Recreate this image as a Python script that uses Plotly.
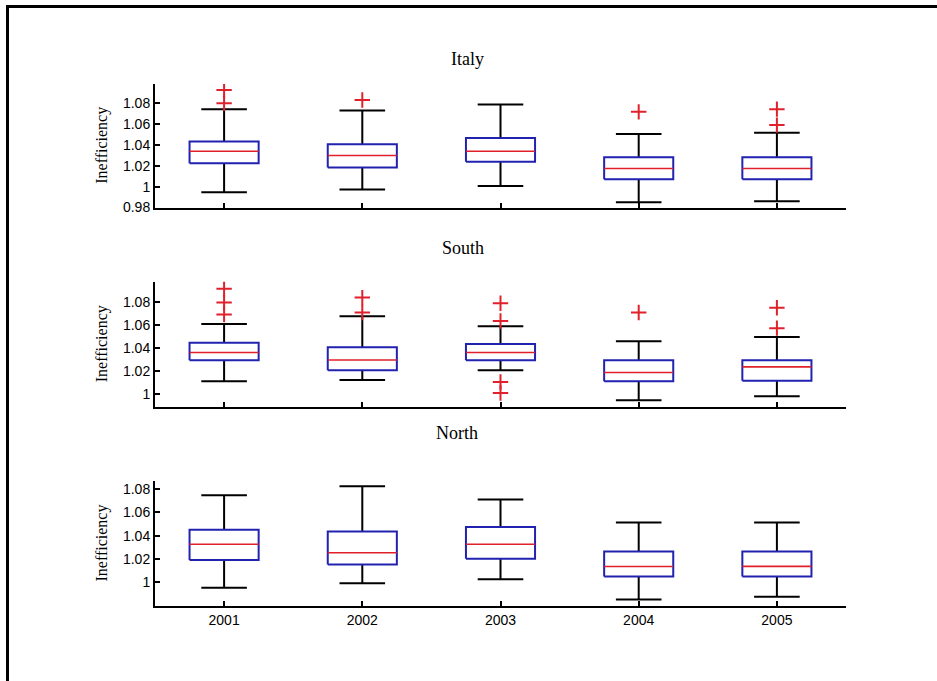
import plotly.graph_objects as go

years = ["2001", "2002", "2003", "2004", "2005"]
positions = [1, 2, 3, 4, 5]
panel_titles = ["Italy", "South", "North"]

italy_q1 = [1.0225, 1.0184, 1.0238, 1.0072, 1.0072]
italy_med = [1.0339, 1.0298, 1.0339, 1.0174, 1.0174]
italy_q3 = [1.0434, 1.0406, 1.0467, 1.0282, 1.0282]
italy_lo = [0.9946, 0.9974, 1.0006, 0.9850, 0.9860]
italy_hi = [1.0743, 1.0730, 1.0787, 1.0505, 1.0517]
italy_out = [[1.0927, 1.0800], [1.0831], [], [1.0717], [1.0743, 1.0590]]

south_q1 = [1.0295, 1.0209, 1.0295, 1.0112, 1.0118]
south_med = [1.0363, 1.0298, 1.0363, 1.0189, 1.0238]
south_q3 = [1.0449, 1.0410, 1.0438, 1.0295, 1.0295]
south_lo = [1.0112, 1.0123, 1.0209, 0.9948, 0.9983]
south_hi = [1.0612, 1.0678, 1.0592, 1.0461, 1.0498]
south_out = [[1.0918, 1.0798, 1.0693], [1.0841, 1.0712], [1.0792, 1.0638, 1.0106, 1.0011], [1.0712], [1.0753, 1.0575]]

north_q1 = [1.0192, 1.0153, 1.0203, 1.0051, 1.0051]
north_med = [1.0327, 1.0254, 1.0327, 1.0136, 1.0138]
north_q3 = [1.0452, 1.0437, 1.0475, 1.0265, 1.0265]
north_lo = [0.9954, 0.9992, 1.0028, 0.9853, 0.9878]
north_hi = [1.0748, 1.0825, 1.0712, 1.0514, 1.0514]
north_out = [[], [], [], [], []]

panels = [
    (italy_q1, italy_med, italy_q3, italy_lo, italy_hi, italy_out),
    (south_q1, south_med, south_q3, south_lo, south_hi, south_out),
    (north_q1, north_med, north_q3, north_lo, north_hi, north_out),
]

y_ranges = [[0.980, 1.0984], [0.989, 1.098], [0.9797, 1.087]]
y_ticks = [[0.98, 1.0, 1.02, 1.04, 1.06, 1.08], [1.0, 1.02, 1.04, 1.06, 1.08], [1.0, 1.02, 1.04, 1.06, 1.08]]
y_ticktext = [["0.98", "1", "1.02", "1.04", "1.06", "1.08"], ["1", "1.02", "1.04", "1.06", "1.08"], ["1", "1.02", "1.04", "1.06", "1.08"]]

W, H = 937, 681
px_top = [(85, 210), (285, 411.7), (486.7, 613.3)]
title_pos = [(467, 60), (463, 251), (457, 438)]

BOX_HALF = 0.25
CAP_HALF = 0.165
BLUE = "#2222b0"
RED = "#e0202a"

fig = go.Figure()
layout = dict(
    width=W, height=H, margin=dict(l=0, r=0, t=0, b=0),
    paper_bgcolor="white", plot_bgcolor="white", showlegend=False,
)
annotations = []
for k, (q1, med, q3, lo, hi, outs) in enumerate(panels):
    xa = "x" if k == 0 else f"x{k+1}"
    ya = "y" if k == 0 else f"y{k+1}"
    bx, by, mx, my, wx, wy, ox, oy = [], [], [], [], [], [], [], []
    for i, p in enumerate(positions):
        bx += [p - BOX_HALF, p + BOX_HALF, p + BOX_HALF, p - BOX_HALF, p - BOX_HALF, None]
        by += [q1[i], q1[i], q3[i], q3[i], q1[i], None]
        mx += [p - BOX_HALF, p + BOX_HALF, None]
        my += [med[i], med[i], None]
        wx += [p, p, None, p, p, None, p - CAP_HALF, p + CAP_HALF, None, p - CAP_HALF, p + CAP_HALF, None]
        wy += [q3[i], hi[i], None, q1[i], lo[i], None, hi[i], hi[i], None, lo[i], lo[i], None]
        for v in outs[i]:
            ox.append(p)
            oy.append(v)
    fig.add_trace(go.Scatter(x=wx, y=wy, mode="lines", line=dict(color="black", width=2),
                             xaxis=xa, yaxis=ya, hoverinfo="skip"))
    fig.add_trace(go.Scatter(x=bx, y=by, mode="lines", line=dict(color=BLUE, width=2),
                             xaxis=xa, yaxis=ya, hoverinfo="skip"))
    fig.add_trace(go.Scatter(x=mx, y=my, mode="lines", line=dict(color=RED, width=1.6),
                             xaxis=xa, yaxis=ya, hoverinfo="skip"))
    fig.add_trace(go.Scatter(x=ox, y=oy, mode="markers",
                             marker=dict(symbol="cross-thin", size=11, line=dict(color=RED, width=2)),
                             xaxis=xa, yaxis=ya))

    t, b = px_top[k]
    xkey = "xaxis" if k == 0 else f"xaxis{k+1}"
    ykey = "yaxis" if k == 0 else f"yaxis{k+1}"
    layout[xkey] = dict(
        domain=[155 / W, 846 / W], range=[0.5, 5.5], anchor=ya,
        tickvals=positions, ticktext=years if k == 2 else [""] * 5,
        ticks="inside", ticklen=5, tickwidth=1.5, tickcolor="black",
        showline=True, linecolor="black", linewidth=2, showgrid=False, zeroline=False,
        tickfont=dict(family="Liberation Sans, Arial", size=14, color="black"),
    )
    layout[ykey] = dict(
        domain=[1 - b / H, 1 - t / H], range=y_ranges[k], anchor=xa,
        tickvals=y_ticks[k], ticktext=y_ticktext[k],
        ticks="inside", ticklen=5, tickwidth=1.5, tickcolor="black",
        showline=True, linecolor="black", linewidth=2, showgrid=False, zeroline=False,
        tickfont=dict(family="Liberation Sans, Arial", size=14, color="black"),
    )
    tx, ty = title_pos[k]
    annotations.append(dict(text=panel_titles[k], x=tx / W, y=1 - ty / H, xref="paper", yref="paper",
                            showarrow=False, xanchor="center", yanchor="middle",
                            font=dict(family="Liberation Serif, Times New Roman", size=18, color="black")))
    annotations.append(dict(text="Inefficiency", x=102 / W, y=1 - ((t + b) / 2) / H, xref="paper", yref="paper",
                            showarrow=False, textangle=-90, xanchor="center", yanchor="middle",
                            font=dict(family="Liberation Serif, Times New Roman", size=16, color="black")))

layout["annotations"] = annotations
layout["shapes"] = [dict(type="rect", xref="paper", yref="paper",
                         x0=7.5 / W, x1=1.02, y0=-0.02, y1=1 - 6.5 / H,
                         line=dict(color="black", width=3), fillcolor="rgba(0,0,0,0)")]
fig.update_layout(**layout)
fig.write_html("out.html", config={"displayModeBar": False},
               post_script="document.body.style.margin='0';document.body.style.padding='0';"
                           "document.body.style.overflow='hidden';")
